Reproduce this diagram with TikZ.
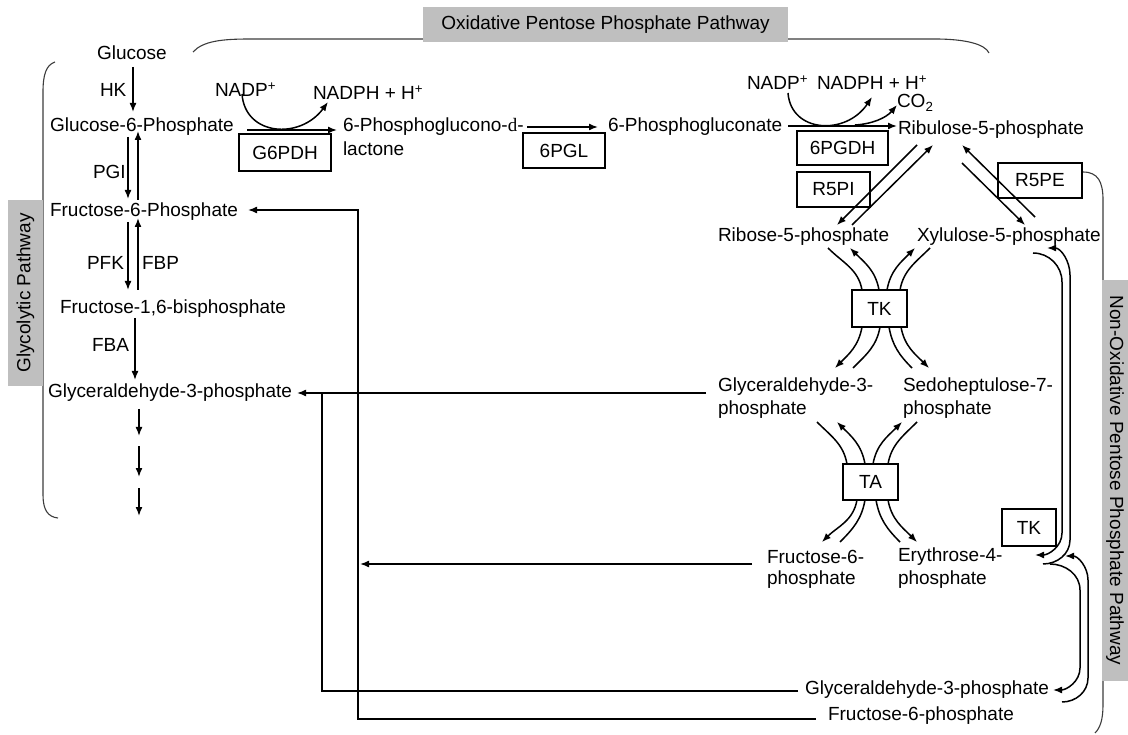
\documentclass[tikz,border=0pt]{standalone}
\usepackage{fontspec}
\setmainfont{Liberation Sans}
\newfontfamily\serifd{Liberation Serif}
\usetikzlibrary{arrows.meta}
\definecolor{labelgray}{RGB}{191,191,191}
\definecolor{brackgray}{RGB}{60,60,60}
\begin{document}
\begin{tikzpicture}[x=1pt,y=-1pt,
  every node/.style={font=\fontsize{19}{22}\selectfont, inner sep=0pt, outer sep=0pt},
  txt/.style={anchor=west},
  enz/.style={draw, line width=1.2pt, inner sep=0pt},
  arr/.style={line width=1.5pt, -{Latex[length=9pt,width=7pt]}},
  ln/.style={line width=1.5pt},
  rln/.style={line width=1.3pt},
  brk/.style={line width=1.1pt, draw=brackgray},
  side/.style={fill=labelgray, inner sep=0pt}
]
\useasboundingbox (0,0) rectangle (1128,735);

% ---------- brackets ----------
\draw[brk] (193,52) .. controls (203,41) and (222,39) .. (250,39) -- (935,39) .. controls (965,39) and (985,44) .. (989,53);
\draw[brk] (55,62) .. controls (46,65) and (43,75) .. (43,92) -- (43,495) .. controls (43,510) and (48,517) .. (58,518);
\draw[brk] (1083,172) .. controls (1098,172) and (1103,182) .. (1103,200) -- (1103,705) .. controls (1103,720) and (1100,728) .. (1095,733);

% ---------- pathway labels ----------
\node[side, minimum width=365pt, minimum height=35pt] (oxlab) at (605.5,24.5) {Oxidative Pentose Phosphate Pathway};
\node[side, minimum width=186pt, minimum height=35pt, rotate=90] (glylab) at (25.5,293) {Glycolytic Pathway};
\node[side, minimum width=401pt, minimum height=26pt, rotate=-90] (nonoxlab) at (1115,480.5) {Non-Oxidative Pentose Phosphate Pathway};

% ---------- glycolysis ----------
\node[txt] (glc) at (97,53) {Glucose};
\node[txt] (hk) at (100,90) {HK};
\node[txt] (g6p) at (50,127) {Glucose-6-Phosphate};
\node[txt] (pgi) at (93,172) {PGI};
\node[txt] (f6p) at (50,212) {Fructose-6-Phosphate};
\node[txt] (pfk) at (87,263) {PFK};
\node[txt] (fbpe) at (142,263) {FBP};
\node[txt] (fbp) at (60,309) {Fructose-1,6-bisphosphate};
\node[txt] (fba) at (92,345) {FBA};
\node[txt] (gap) at (48,393) {Glyceraldehyde-3-phosphate};

\coordinate (hk1) at (133,67); \coordinate (hk2) at (133,112);
\draw[arr] (hk1) -- (hk2);
\draw[arr] (128,137) -- (128,199);
\draw[arr] (138,200) -- (138,131);
\draw[arr] (128,222) -- (128,290);
\draw[arr] (138,290) -- (138,218);
\draw[arr] (135,318) -- (135,380);
\draw[arr] (139,409) -- (139,436);
\draw[arr] (139,446) -- (139,477);
\draw[arr] (139,488) -- (139,516);

% ---------- oxidative branch ----------
\node[txt] (nadp1) at (215,90) {NADP\textsuperscript{+}};
\node[txt] (nadph1) at (313,93) {NADPH + H\textsuperscript{+}};
\node[enz, minimum width=92pt, minimum height=37pt] (g6pdh) at (285,152.5) {G6PDH};
\node[txt] (pgl) at (343,127) {6-Phosphoglucono-{\serifd d}-};
\node[txt] (lac) at (343,149) {lactone};
\node[enz, minimum width=82pt, minimum height=35pt] (pglenz) at (564,150.5) {6PGL};
\node[txt] (pgn) at (608,127) {6-Phosphogluconate};
\node[txt] (nadp2) at (747,83) {NADP\textsuperscript{+}};
\node[txt] (nadph2) at (817,83) {NADPH + H\textsuperscript{+}};
\node[txt] (co2) at (897,103) {CO\textsubscript{2}};
\node[enz, minimum width=91pt, minimum height=34pt] (pgdh) at (842.5,148) {6PGDH};
\node[txt] (ru5p) at (898,130) {Ribulose-5-phosphate};

\draw[arr] (247,130) -- (337,130);
\draw[arr] (242,94) .. controls (245,136) and (300,140) .. (328,102);
\draw[arr] (527,127) -- (598,127);
\draw[arr] (788,126) -- (897,126);
\draw[arr] (788,93) .. controls (791,133) and (846,136) .. (872,97);
\draw[arr] (855,125) .. controls (872,124) and (886,118) .. (897,105);

% ---------- isomerase / epimerase ----------
\node[enz, minimum width=73pt, minimum height=35pt] (r5pi) at (833.5,189.5) {R5PI};
\node[enz, minimum width=84pt, minimum height=35pt] (r5pe) at (1040,180.5) {R5PE};
\node[txt] (r5p) at (718,237) {Ribose-5-phosphate};
\node[txt] (xu5p) at (917,237) {Xylulose-5-phosphate};

\draw[arr] (917,145) -- (837,225);
\draw[arr] (852,225) -- (933,145);
\draw[arr] (1035,217) -- (962,145);
\draw[arr] (962,163) -- (1025,225);

% ---------- transketolase ----------
\node[enz, minimum width=55pt, minimum height=37pt] (tk1) at (879.5,308.5) {TK};
\draw[ln] (828,248) to[out=-45,in=100] (862,290);
\draw[arr] (879,290) to[out=100,in=-45] (850,248);
\draw[arr] (887,290) to[out=80,in=-135] (915,248);
\draw[ln] (930,248) to[out=-135,in=80] (900,290);
\draw[arr] (862,327) to[out=-100,in=45] (835,368);
\draw[ln] (853,368) to[out=45,in=-100] (880,327);
\draw[arr] (901,327) to[out=-80,in=135] (929,368);
\draw[ln] (912,368) to[out=135,in=-80] (889,327);

\node[txt] (gap2a) at (718,387) {Glyceraldehyde-3-};
\node[txt] (gap2b) at (718,410) {phosphate};
\node[txt] (s7pa) at (903,387) {Sedoheptulose-7-};
\node[txt] (s7pb) at (903,410) {phosphate};

% ---------- transaldolase ----------
\node[enz, minimum width=55pt, minimum height=36pt] (ta) at (870.5,482) {TA};
\draw[ln] (817,422) to[out=-45,in=100] (847,464);
\draw[arr] (865,464) to[out=100,in=-45] (837,422);
\draw[arr] (873,464) to[out=80,in=-135] (902,422);
\draw[ln] (917,422) to[out=-135,in=80] (888,464);
\draw[arr] (857,500) to[out=-100,in=45] (822,542);
\draw[ln] (840,542) to[out=45,in=-100] (865,500);
\draw[arr] (888,500) to[out=-80,in=135] (917,542);
\draw[ln] (900,542) to[out=135,in=-80] (876,500);

\node[txt] (f6p2a) at (767,557) {Fructose-6-};
\node[txt] (f6p2b) at (767,580) {phosphate};
\node[txt] (e4pa) at (898,557) {Erythrose-4-};
\node[txt] (e4pb) at (898,580) {phosphate};

% ---------- second transketolase ----------
\node[enz, minimum width=54pt, minimum height=37pt] (tk2) at (1029,527.5) {TK};
\draw[arr] (1033,253) to[out=0,in=90] (1062,282) -- (1062,533) to[out=-90,in=0] (1035,555);
\draw[arr] (1043,564) to[out=0,in=-90] (1070,540) -- (1070,275) to[out=90,in=0] (1047,248);
\draw[arr] (1050,564) to[out=0,in=90] (1080,590) -- (1080,668) to[out=-90,in=0] (1053,690);
\draw[arr] (1062,702) to[out=0,in=-90] (1088,678) -- (1088,580) to[out=90,in=0] (1065,556);

\node[txt] (gap3) at (805,690) {Glyceraldehyde-3-phosphate};
\node[txt] (f6p3) at (828,716) {Fructose-6-phosphate};

% ---------- return lines ----------
\draw[arr] (706,393) -- (297,393);
\draw[rln] (798,691) -- (322,691) -- (322,393);
\draw[arr] (816,719) -- (358,719) -- (358,210) -- (248,210);
\draw[arr] (752,564) -- (360,564);
\end{tikzpicture}
\end{document}
